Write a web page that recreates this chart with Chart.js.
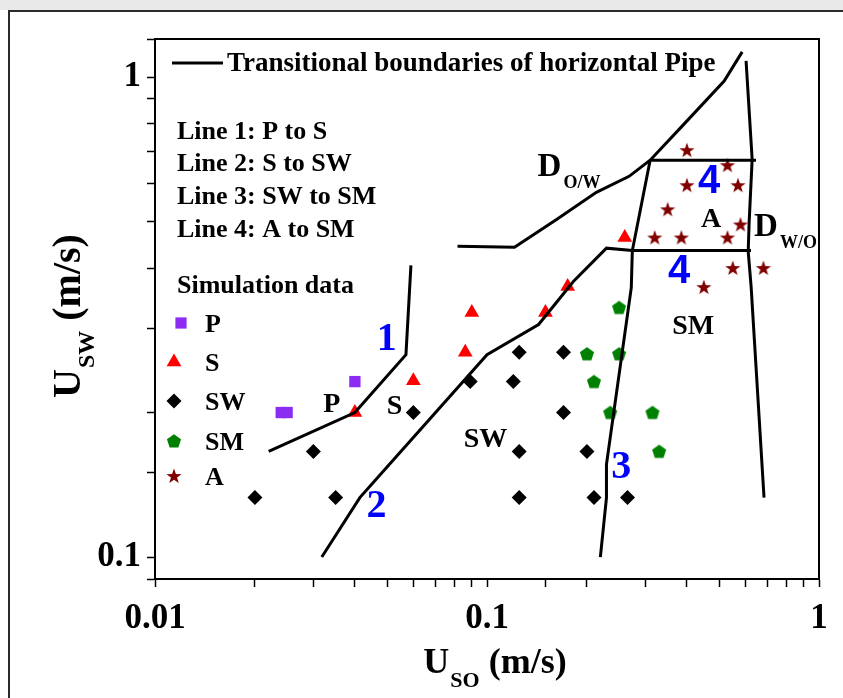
<!DOCTYPE html>
<html>
<head>
<meta charset="utf-8">
<script src="https://cdn.jsdelivr.net/npm/chart.js@4.4.1/dist/chart.umd.min.js"></script>
<style>
html,body{margin:0;padding:0;background:#fff;}
#wrap{width:843px;height:698px;position:relative;}
canvas{display:block;}
</style>
</head>
<body>
<div id="wrap"><canvas id="c" width="843" height="698"></canvas></div>
<script>
// Superficial oil velocity (x) and superficial water velocity (y), m/s
const pX  = [0.024, 0.025, 0.04];
const pY  = [0.2, 0.2, 0.232];
const sX  = [0.04, 0.06, 0.086, 0.09, 0.15, 0.175, 0.26];
const sY  = [0.2, 0.233, 0.267, 0.323, 0.323, 0.366, 0.463];
const swX = [0.02, 0.03, 0.035, 0.06, 0.089, 0.12, 0.125, 0.17, 0.17, 0.125, 0.2, 0.125, 0.21, 0.265];
const swY = [0.133, 0.166, 0.133, 0.2, 0.232, 0.232, 0.267, 0.267, 0.2, 0.166, 0.166, 0.133, 0.133, 0.133];
const smX = [0.25, 0.2, 0.25, 0.21, 0.235, 0.315, 0.33];
const smY = [0.331, 0.265, 0.265, 0.232, 0.2, 0.2, 0.166];
const aX  = [0.4, 0.53, 0.4, 0.57, 0.35, 0.58, 0.32, 0.385, 0.53, 0.55, 0.68, 0.45];
const aY  = [0.704, 0.655, 0.595, 0.595, 0.53, 0.493, 0.463, 0.463, 0.463, 0.4, 0.4, 0.365];

// Transitional boundaries of the horizontal pipe
const line1X = [0.022, 0.04, 0.057, 0.059];
const line1Y = [0.166, 0.2, 0.264, 0.405];
const line2X = [0.0318, 0.0414, 0.05, 0.1, 0.143, 0.182, 0.229, 0.274];
const line2Y = [0.1, 0.133, 0.154, 0.264, 0.305, 0.375, 0.44, 0.435];
const line3X = [0.2195, 0.229, 0.229, 0.272, 0.274, 0.31];
const line3Y = [0.1, 0.133, 0.156, 0.364, 0.435, 0.671];
const line4LowX = [0.274, 0.624];
const line4LowY = [0.435, 0.435];
const line4UpX = [0.31, 0.646];
const line4UpY = [0.671, 0.671];
const dowX = [0.0815, 0.121, 0.162, 0.2135, 0.268, 0.31, 0.387, 0.518, 0.587];
const dowY = [0.444, 0.442, 0.505, 0.575, 0.621, 0.671, 0.79, 0.981, 1.128];
const dwoX = [0.603, 0.629, 0.616, 0.612, 0.6245, 0.683];
const dwoY = [1.08, 0.674, 0.498, 0.433, 0.366, 0.133];

// Axis ranges
const xRange = [0.01, 1];
const yRange = [0.09, 1.2];

// Text placed inside the plot (anchored in data units)
const regionText = [
  {t: 'P',  x: 0.0341, y: 0.2097},
  {t: 'S',  x: 0.0527, y: 0.2076},
  {t: 'SW', x: 0.099,  y: 0.177},
  {t: 'SM', x: 0.418,  y: 0.305},
  {t: 'A',  x: 0.473,  y: 0.51}
];
const lineNumText = [
  {t: '1', x: 0.0499, y: 0.2866, sans: false},
  {t: '2', x: 0.0465, y: 0.1284, sans: false},
  {t: '3', x: 0.2538, y: 0.1549, sans: false},
  {t: '4', x: 0.4668, y: 0.6065, sans: true},
  {t: '4', x: 0.3792, y: 0.3956, sans: true}
];
const dispersionText = [
  {main: 'D', sub: 'O/W', x: 0.142, y: 0.621},
  {main: 'D', sub: 'W/O', x: 0.6376, y: 0.4656}
];
const legendLines = ['Line 1: P to S', 'Line 2: S to SW', 'Line 3: SW to SM', 'Line 4: A to SM'];
const seriesNames = ['P', 'S', 'SW', 'SM', 'A'];

const SERIF = '"Liberation Serif", "Times New Roman", serif';
const SANS = '"Liberation Sans", Arial, sans-serif';
const COL = {P: '#8c2cf2', S: '#ff0000', SW: '#000000', SM: '#008000', A: '#800000', num: '#0000ff'};

const pts = (xs, ys) => xs.map((x, i) => ({x: x, y: ys[i]}));

// Custom marker images (pentagon, filled star)
function polyPath(g, cx, cy, n, rOut, rIn) {
  const k = rIn ? n * 2 : n;
  g.beginPath();
  for (let i = 0; i < k; i++) {
    const r = rIn ? (i % 2 === 0 ? rOut : rIn) : rOut;
    const a = -Math.PI / 2 + i * 2 * Math.PI / k;
    const px = cx + r * Math.cos(a), py = cy + r * Math.sin(a);
    if (i === 0) g.moveTo(px, py); else g.lineTo(px, py);
  }
  g.closePath();
}
function markerCanvas(color, n, rOut, rIn) {
  const c = document.createElement('canvas');
  c.width = 18; c.height = 18;
  const g = c.getContext('2d');
  g.fillStyle = color;
  polyPath(g, 9, 9.6, n, rOut, rIn);
  g.fill();
  return c;
}
const pentagonImg = markerCanvas(COL.SM, 5, 7.4, 0);
const starImg = markerCanvas(COL.A, 5, 8, 3.2);

const lineDs = (xs, ys) => ({
  data: pts(xs, ys), showLine: true, borderColor: '#000', borderWidth: 3,
  pointRadius: 0, fill: false, tension: 0, order: 0, borderJoinStyle: 'miter'
});
const markDs = (xs, ys, style, color, r) => ({
  data: pts(xs, ys), showLine: false, pointStyle: style, pointRadius: r,
  backgroundColor: color, borderColor: color, borderWidth: 0, order: 1
});

// Helpers for text with subscript
function capY(cy, size) { return cy + size * 0.33; }
function drawSubText(ctx, x, baseline, main, sub, mainSize, subSize, subDrop, gap) {
  ctx.font = 'bold ' + mainSize + 'px ' + SERIF;
  ctx.fillText(main, x, baseline);
  const w = ctx.measureText(main).width;
  ctx.font = 'bold ' + subSize + 'px ' + SERIF;
  ctx.fillText(sub, x + w + gap, baseline + subDrop);
  return w + gap + ctx.measureText(sub).width;
}
function drawMarker(ctx, kind, x, y) {
  ctx.save();
  ctx.fillStyle = COL[kind];
  ctx.beginPath();
  if (kind === 'P') {
    ctx.rect(x - 5.6, y - 5.6, 11.2, 11.2);
  } else if (kind === 'S') {
    ctx.moveTo(x, y - 8.5); ctx.lineTo(x + 7.4, y + 4.3); ctx.lineTo(x - 7.4, y + 4.3); ctx.closePath();
  } else if (kind === 'SW') {
    ctx.moveTo(x - 7.5, y); ctx.lineTo(x, y - 7.5); ctx.lineTo(x + 7.5, y); ctx.lineTo(x, y + 7.5); ctx.closePath();
  } else if (kind === 'SM') {
    polyPath(ctx, x, y + 0.6, 5, 7.4, 0);
  } else {
    polyPath(ctx, x, y + 0.6, 5, 8, 3.2);
  }
  ctx.fill();
  ctx.restore();
}

const decor = {
  id: 'decor',
  beforeDraw(chart) {
    const ctx = chart.ctx;
    ctx.save();
    ctx.fillStyle = '#ffffff';
    ctx.fillRect(0, 0, chart.width, chart.height);
    ctx.fillStyle = '#e9e9e9';
    ctx.fillRect(0, 0, chart.width, 10);
    ctx.strokeStyle = '#2a2a2a';
    ctx.lineWidth = 2;
    ctx.beginPath();
    ctx.moveTo(9, chart.height); ctx.lineTo(9, 11); ctx.lineTo(chart.width, 11);
    ctx.stroke();
    ctx.restore();
  },
  afterDraw(chart) {
    const ctx = chart.ctx, ca = chart.chartArea;
    const xs = chart.scales.x, ys = chart.scales.y;
    ctx.save();
    // plot frame
    ctx.strokeStyle = '#000';
    ctx.lineWidth = 2;
    ctx.strokeRect(ca.left, ca.top, ca.right - ca.left, ca.bottom - ca.top);

    ctx.fillStyle = '#000';
    ctx.textAlign = 'left';
    ctx.textBaseline = 'alphabetic';

    // legend: boundary line sample
    const L = ca.left;
    ctx.lineWidth = 3;
    ctx.beginPath();
    ctx.moveTo(L + 17, ca.top + 24); ctx.lineTo(L + 68, ca.top + 24);
    ctx.stroke();
    ctx.font = 'bold 27px ' + SERIF;
    ctx.fillText('Transitional boundaries of horizontal Pipe', L + 72, capY(ca.top + 23, 27));

    ctx.font = 'bold 26px ' + SERIF;
    const lineRows = [130, 162, 195, 228];
    legendLines.forEach((s, i) => ctx.fillText(s, L + 22, capY(lineRows[i], 26)));
    ctx.fillText('Simulation data', L + 22, capY(284, 26));

    const rows = [323, 362, 401, 441, 476];
    seriesNames.forEach((s, i) => {
      drawMarker(ctx, s, L + (s === 'P' ? 26 : 19), rows[i]);
      ctx.fillStyle = '#000';
      ctx.font = 'bold 26px ' + SERIF;
      ctx.fillText(s, L + 50, capY(rows[i], 26));
    });

    // region names
    ctx.textAlign = 'center';
    ctx.font = 'bold 28px ' + SERIF;
    regionText.forEach(o => {
      ctx.fillText(o.t, xs.getPixelForValue(o.x), capY(ys.getPixelForValue(o.y), 28));
    });
    // boundary numbers
    ctx.fillStyle = COL.num;
    lineNumText.forEach(o => {
      ctx.font = 'bold 40px ' + (o.sans ? SANS : SERIF);
      ctx.fillText(o.t, xs.getPixelForValue(o.x), capY(ys.getPixelForValue(o.y), 40) - 1);
    });
    // dispersion labels
    ctx.fillStyle = '#000';
    ctx.textAlign = 'left';
    dispersionText.forEach(o => {
      drawSubText(ctx, xs.getPixelForValue(o.x), ys.getPixelForValue(o.y), o.main, o.sub, 33, 18, 12, 2);
    });

    // x axis title
    ctx.font = 'bold 36px ' + SERIF;
    const wU = ctx.measureText('U').width;
    const wRest = ctx.measureText(' (m/s)').width;
    ctx.font = 'bold 22px ' + SERIF;
    const wSub = ctx.measureText('SO').width;
    const totX = wU + 1 + wSub + wRest;
    let tx = (ca.left + ca.right) / 2 - totX / 2 + 8;
    const tb = 673;
    drawSubText(ctx, tx, tb, 'U', 'SO', 36, 22, 14, 1);
    ctx.font = 'bold 36px ' + SERIF;
    ctx.fillText(' (m/s)', tx + wU + 1 + wSub, tb);

    // y axis title (rotated)
    ctx.save();
    ctx.translate(80, 316);
    ctx.rotate(-Math.PI / 2);
    ctx.font = 'bold 40px ' + SERIF;
    const wUY = ctx.measureText('U').width;
    const wRestY = ctx.measureText(' (m/s)').width;
    ctx.font = 'bold 24px ' + SERIF;
    const wSubY = ctx.measureText('SW').width;
    const totY = wUY + 1 + wSubY + wRestY;
    const ty0 = -totY / 2;
    drawSubText(ctx, ty0, 0, 'U', 'SW', 40, 24, 14, 1);
    ctx.font = 'bold 40px ' + SERIF;
    ctx.fillText(' (m/s)', ty0 + wUY + 1 + wSubY, 0);
    ctx.restore();

    ctx.restore();
  }
};

const decadeLabel = v => {
  const l = Math.log10(v);
  return Math.abs(l - Math.round(l)) < 1e-6 ? String(Number(v.toPrecision(3))) : '';
};

new Chart(document.getElementById('c'), {
  type: 'scatter',
  data: {
    datasets: [
      lineDs(line1X, line1Y),
      lineDs(line2X, line2Y),
      lineDs(line3X, line3Y),
      lineDs(line4LowX, line4LowY),
      lineDs(line4UpX, line4UpY),
      lineDs(dowX, dowY),
      lineDs(dwoX, dwoY),
      markDs(pX, pY, 'rect', COL.P, 8),
      markDs(sX, sY, 'triangle', COL.S, 8.5),
      markDs(swX, swY, 'rectRot', COL.SW, 7.5),
      markDs(smX, smY, pentagonImg, COL.SM, 8),
      markDs(aX, aY, starImg, COL.A, 8)
    ]
  },
  options: {
    responsive: false,
    animation: false,
    events: [],
    layout: {padding: {left: 0, top: 39, right: 24, bottom: 0}},
    plugins: {legend: {display: false}, tooltip: {enabled: false}},
    scales: {
      x: {
        type: 'logarithmic', min: xRange[0], max: xRange[1],
        afterFit: s => { s.height = 119; },
        border: {display: true, color: '#000', width: 2},
        grid: {drawOnChartArea: false, drawTicks: true, tickLength: 8, tickColor: '#000', tickWidth: 1.5},
        ticks: {autoSkip: false, maxRotation: 0, padding: 11, color: '#000',
                font: {family: SERIF, size: 35, weight: 'bold'}, callback: decadeLabel}
      },
      y: {
        type: 'logarithmic', min: yRange[0], max: yRange[1],
        afterFit: s => { s.width = 155; },
        border: {display: true, color: '#000', width: 2},
        grid: {drawOnChartArea: false, drawTicks: true, tickLength: 8, tickColor: '#000', tickWidth: 1.5},
        ticks: {autoSkip: false, padding: 6, color: '#000',
                font: {family: SERIF, size: 35, weight: 'bold'}, callback: decadeLabel}
      }
    }
  },
  plugins: [decor]
});
</script>
</body>
</html>
